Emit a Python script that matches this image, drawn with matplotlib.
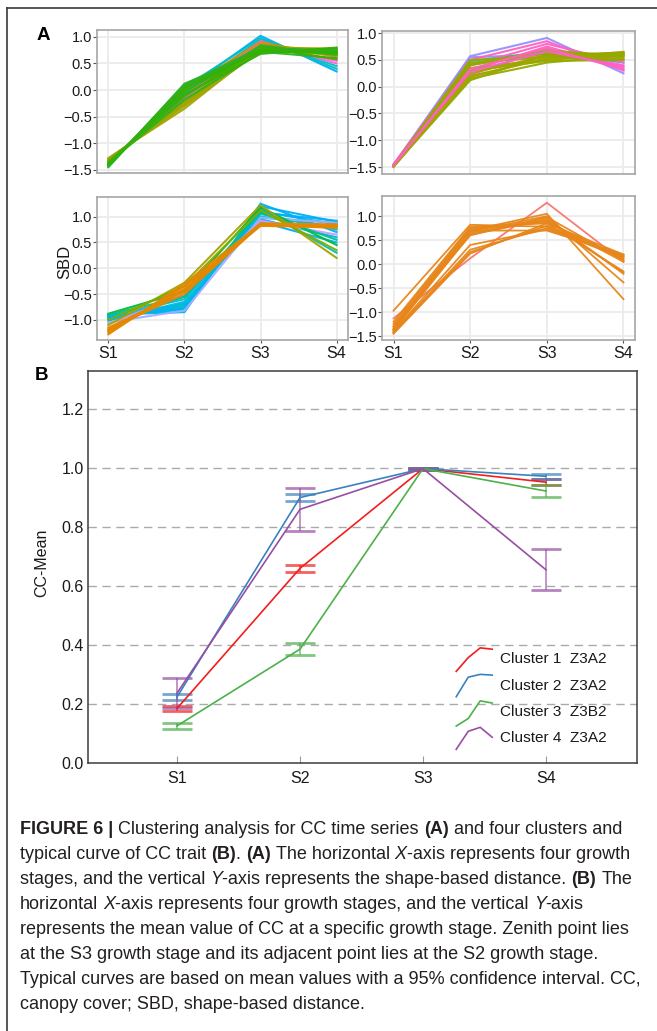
import matplotlib
matplotlib.use("Agg")
import matplotlib.pyplot as plt
from matplotlib.lines import Line2D

W, H = 657, 1031
plt.rcParams['font.family'] = ['Liberation Sans', 'DejaVu Sans']

stages = ['S1', 'S2', 'S3', 'S4']
xs = [1, 2, 3, 4]

# ---- panel A: shape-based distance curves (representative lines)
tl_lines = [
    [-1.40, 0.00, 1.02, 0.35], [-1.42, 0.05, 0.98, 0.40], [-1.38, -0.05, 0.95, 0.45],
    [-1.36, -0.10, 0.92, 0.50], [-1.35, -0.15, 0.88, 0.55], [-1.40, 0.02, 0.90, 0.62],
    [-1.30, -0.30, 0.74, 0.76], [-1.32, -0.25, 0.82, 0.70], [-1.28, -0.35, 0.78, 0.65],
    [-1.33, -0.20, 0.85, 0.72], [-1.29, -0.28, 0.80, 0.78], [-1.31, -0.22, 0.76, 0.74],
    [-1.42, 0.10, 0.80, 0.72], [-1.40, 0.05, 0.78, 0.75],
    [-1.38, -0.02, 0.75, 0.70], [-1.45, 0.12, 0.72, 0.78], [-1.35, -0.10, 0.76, 0.68],
    [-1.37, -0.18, 0.70, 0.74], [-1.38, -0.08, 0.68, 0.80], [-1.44, 0.08, 0.72, 0.60],
    [-1.36, -0.12, 0.80, 0.58], [-1.39, -0.04, 0.84, 0.66], [-1.41, 0.03, 0.74, 0.70],
]
tl_colors = ['#00B0F6', '#00BFC4', '#00BFC4', '#F564E3', '#FF61C3', '#E58700',
             '#A3A500', '#9AA500', '#A3A500', '#8FAA00', '#A3A500', '#9AA500',
             '#2DB224', '#2DB224',
             '#35B000', '#2DB224', '#3BB300', '#2DB224', '#35B000', '#2DB224',
             '#3BB300', '#2DB224', '#35B000']

tr_lines = [
    [-1.46, 0.57, 0.91, 0.25], [-1.47, 0.55, 0.60, 0.50], [-1.48, 0.48, 0.65, 0.45],
    [-1.45, 0.50, 0.85, 0.30], [-1.46, 0.30, 0.75, 0.35], [-1.47, 0.22, 0.70, 0.40],
    [-1.45, 0.40, 0.80, 0.45], [-1.48, 0.45, 0.55, 0.62], [-1.47, 0.35, 0.50, 0.60],
    [-1.49, 0.25, 0.58, 0.64], [-1.46, 0.15, 0.45, 0.58], [-1.48, 0.40, 0.62, 0.55],
    [-1.50, 0.20, 0.52, 0.65], [-1.47, 0.30, 0.48, 0.50], [-1.49, 0.12, 0.60, 0.62],
    [-1.48, 0.50, 0.56, 0.60], [-1.47, 0.42, 0.68, 0.57], [-1.49, 0.18, 0.54, 0.52],
    [-1.46, 0.28, 0.66, 0.38], [-1.47, 0.33, 0.72, 0.32],
]
tr_colors = ['#9590FF', '#9590FF', '#00BFC4', '#FF61C3', '#FF61C3', '#F564E3',
             '#FF61C3', '#93AA00', '#93AA00', '#A3A500', '#93AA00', '#93AA00',
             '#A3A500', '#93AA00', '#93AA00', '#9AA800', '#93AA00', '#A3A500',
             '#FF61C3', '#FF61C3']

bl_lines = [
    [-0.92, -0.80, 1.20, 0.90], [-0.95, -0.75, 1.10, 0.85], [-0.98, -0.70, 1.00, 0.80],
    [-0.90, -0.85, 1.25, 0.70], [-1.00, -0.65, 0.95, 0.60], [-0.93, -0.60, 1.05, 0.75],
    [-1.02, -0.55, 0.90, 0.50], [-0.96, -0.72, 1.15, 0.30], [-0.94, -0.78, 1.08, 0.92],
    [-0.99, -0.68, 0.98, 0.88], [-1.05, -0.82, 0.98, 0.88], [-1.08, -0.50, 0.92, 0.65],
    [-0.88, -0.45, 1.18, 0.45], [-0.90, -0.55, 1.08, 0.55],
    [-1.10, -0.28, 1.22, 0.20], [-1.00, -0.35, 1.12, 0.35], [-1.15, -0.45, 0.85, 0.82],
    [-1.20, -0.40, 0.83, 0.84], [-1.25, -0.35, 0.82, 0.80], [-1.28, -0.30, 0.86, 0.83],
    [-1.18, -0.50, 0.84, 0.78], [-1.22, -0.42, 0.87, 0.85],
]
bl_colors = ['#00B0F6', '#00B8E7', '#00BFC4', '#00B0F6', '#00B8E7', '#00BFC4',
             '#00B0F6', '#00BFC4', '#00B0F6', '#00B8E7', '#9BB0FF', '#C99BFF',
             '#00BA38', '#00C08B',
             '#A3A500', '#7CAE00', '#E58700', '#E58700', '#E38900', '#E58700',
             '#E58700', '#E38900']

br_lines = [
    [-1.13, 0.12, 1.28, 0.05], [-0.97, 0.82, 0.78, 0.15], [-1.20, 0.78, 0.85, 0.20],
    [-1.25, 0.75, 0.88, 0.10], [-1.30, 0.72, 0.90, 0.05], [-1.33, 0.70, 1.05, -0.73],
    [-1.35, 0.68, 1.00, -0.38], [-1.37, 0.65, 0.95, -0.20], [-1.38, 0.62, 0.92, -0.18],
    [-1.40, 0.40, 0.72, 0.18], [-1.42, 0.30, 0.75, 0.12], [-1.43, 0.25, 0.80, 0.15],
    [-1.45, 0.22, 0.85, -0.15], [-1.30, 0.60, 0.98, 0.08], [-1.36, 0.70, 0.70, 0.20],
]
br_colors = ['#F8766D'] + ['#E7861B'] * 14

# ---- panel B: cluster means with 95% CI
clusters = ['Cluster 1  Z3A2', 'Cluster 2  Z3A2', 'Cluster 3  Z3B2', 'Cluster 4  Z3A2']
cl_colors = ['#F01E1E', '#3A82BD', '#4DB04A', '#984EA3']
cl_mean = [
    [0.185, 0.660, 0.998, 0.952],
    [0.224, 0.900, 0.998, 0.972],
    [0.126, 0.386, 0.998, 0.922],
    [0.237, 0.860, 0.998, 0.655],
]
cl_low = [
    [0.176, 0.647, 0.993, 0.942],
    [0.213, 0.888, 0.994, 0.963],
    [0.115, 0.366, 0.993, 0.902],
    [0.186, 0.786, 0.994, 0.586],
]
cl_high = [
    [0.193, 0.671, 1.000, 0.963],
    [0.234, 0.912, 1.000, 0.981],
    [0.136, 0.407, 1.000, 0.942],
    [0.288, 0.932, 1.000, 0.725],
]

caption = [
    [("FIGURE 6 |", 'b'), (" Clustering analysis for CC time series ", 'n'), ("(A)", 'b'),
     (" and four clusters and", 'n')],
    [("typical curve of CC trait ", 'n'), ("(B)", 'b'), (". ", 'n'), ("(A)", 'b'),
     (" The horizontal ", 'n'), ("X", 'i'), ("-axis represents four growth", 'n')],
    [("stages, and the vertical ", 'n'), ("Y", 'i'),
     ("-axis represents the shape-based distance. ", 'n'), ("(B)", 'b'), (" The", 'n')],
    [("horizontal ", 'n'), ("X", 'i'), ("-axis represents four growth stages, and the vertical ", 'n'),
     ("Y", 'i'), ("-axis", 'n')],
    [("represents the mean value of CC at a specific growth stage. Zenith point lies", 'n')],
    [("at the S3 growth stage and its adjacent point lies at the S2 growth stage.", 'n')],
    [("Typical curves are based on mean values with a 95% confidence interval. CC,", 'n')],
    [("canopy cover; SBD, shape-based distance.", 'n')],
]


def px_axes(fig, l, t, r, b):
    return fig.add_axes([l / W, 1 - b / H, (r - l) / W, (b - t) / H])


def style_a(ax, ylim, yticks, show_x):
    ax.set_xlim(0.85, 4.15)
    ax.set_ylim(*ylim)
    ax.set_yticks(yticks)
    ax.set_xticks(xs)
    ax.grid(True, color='#EBEBEB', lw=1.3)
    ax.set_axisbelow(True)
    for s in ax.spines.values():
        s.set_color('#A6A6A6')
        s.set_linewidth(1.2)
    ax.tick_params(axis='y', length=3, width=0.8, color='#555555', pad=0.5,
                   labelsize=10.5, labelcolor='#1A1A1A')
    if show_x:
        ax.set_xticklabels(stages)
        ax.tick_params(axis='x', length=2.5, width=0.8, color='#555555', pad=2,
                       labelsize=11.5, labelcolor='#1A1A1A')
    else:
        ax.tick_params(axis='x', length=0, labelbottom=False)


def draw_lines(ax, lines, colors, lw=1.5):
    for vals, c in zip(lines, colors):
        ax.plot(xs, vals, color=c, lw=lw, alpha=0.95, solid_joinstyle='miter')


def rich_line(fig, renderer, x_px, y_px, segments, size, fam):
    probe = fig.text(0, 0, "a a", fontsize=size, family=fam)
    w2 = probe.get_window_extent(renderer).width
    probe.set_text("aa")
    space = w2 - probe.get_window_extent(renderer).width
    probe.remove()
    x = x_px
    for txt, st in segments:
        lead = len(txt) - len(txt.lstrip(' '))
        trail = len(txt) - len(txt.rstrip(' '))
        core = txt.strip(' ')
        x += lead * space
        kw = {'family': fam, 'fontsize': size, 'color': '#231F20'}
        if st == 'b':
            kw['fontweight'] = 'bold'
        if st == 'i':
            kw['fontstyle'] = 'italic'
        t = fig.text(x / W, 1 - y_px / H, core, ha='left', va='center', **kw)
        x += t.get_window_extent(renderer).width + trail * space


fig = plt.figure(figsize=(W / 100, H / 100), dpi=100)
fig.patch.set_facecolor('white')

# panel A
ax1 = px_axes(fig, 97, 30, 348, 173)
draw_lines(ax1, tl_lines, tl_colors)
style_a(ax1, (-1.56, 1.13), [-1.5, -1.0, -0.5, 0.0, 0.5, 1.0], False)

ax2 = px_axes(fig, 382, 31, 635, 174)
draw_lines(ax2, tr_lines, tr_colors)
style_a(ax2, (-1.63, 1.04), [-1.5, -1.0, -0.5, 0.0, 0.5, 1.0], False)

ax3 = px_axes(fig, 97, 197, 348, 340)
draw_lines(ax3, bl_lines, bl_colors)
style_a(ax3, (-1.39, 1.38), [-1.0, -0.5, 0.0, 0.5, 1.0], True)

ax4 = px_axes(fig, 382, 196, 635, 340)
draw_lines(ax4, br_lines, br_colors, lw=1.3)
style_a(ax4, (-1.58, 1.42), [-1.5, -1.0, -0.5, 0.0, 0.5, 1.0], True)

fig.text(65 / W, 1 - 262 / H, 'SBD', rotation=90, ha='center', va='center',
         fontsize=12, color='#1A1A1A')
fig.text(43 / W, 1 - 35 / H, 'A', fontsize=13.5, fontweight='bold', ha='center', va='center')
fig.text(42 / W, 1 - 375 / H, 'B', fontsize=13.5, fontweight='bold', ha='center', va='center')

# panel B
axb = px_axes(fig, 88, 371, 637, 763)
axb.set_xlim(0.276, 4.74)
axb.set_ylim(0, 1.329)
for yv in [0.2, 0.4, 0.6, 0.8, 1.0, 1.2]:
    axb.axhline(yv, color='#AAAAAA', lw=1.0, ls=(0, (6, 4)), zorder=0)
for k in range(4):
    m = cl_mean[k]
    lo = [m[i] - cl_low[k][i] for i in range(4)]
    hi = [cl_high[k][i] - m[i] for i in range(4)]
    axb.errorbar(xs, m, yerr=[lo, hi], fmt='none', ecolor=cl_colors[k],
                 elinewidth=1.2, capsize=11, capthick=2.0, alpha=0.7, zorder=2)
    axb.plot(xs, m, color=cl_colors[k], lw=1.2, zorder=3)
axb.set_xticks(xs)
axb.set_xticklabels(stages)
axb.set_yticks([0.0, 0.2, 0.4, 0.6, 0.8, 1.0, 1.2])
axb.tick_params(axis='x', direction='in', length=5, color='#999999', pad=6,
                labelsize=11.5, labelcolor='#1A1A1A')
axb.tick_params(axis='y', length=0, pad=3, labelsize=11.5, labelcolor='#1A1A1A')
for s in axb.spines.values():
    s.set_color('#3C3C3C')
    s.set_linewidth(1.1)
fig.text(42 / W, 1 - 563 / H, 'CC-Mean', rotation=90, ha='center', va='center',
         fontsize=11.5, color='#1A1A1A')

# legend: small glyph of each cluster's mean curve + label
for k in range(4):
    ty = 0.3525 - 0.0898 * k
    gx = [3.27 + 0.0976 * i for i in range(4)]
    gy = [ty - 0.06 + 0.098 * v for v in cl_mean[k]]
    axb.plot(gx, gy, color=cl_colors[k], lw=1.2, zorder=4)
    axb.text(3.63, ty, clusters[k], ha='left', va='center', fontsize=11.1,
             color='#1A1A1A', zorder=4)

# figure border
fig.add_artist(Line2D([7 / W, 7 / W], [0, 1 - 8 / H], color='#3A3A3A', lw=1.2))
fig.add_artist(Line2D([7 / W, 1], [1 - 8 / H, 1 - 8 / H], color='#3A3A3A', lw=1.2))

# caption
renderer = fig.canvas.get_renderer()
cap_font = ['Liberation Sans Narrow', 'Liberation Sans', 'DejaVu Sans']
for i, segs in enumerate(caption):
    rich_line(fig, renderer, 20, 829 + 25.1 * i, segs, 13.0, cap_font)

fig.savefig('out.png', dpi=100, facecolor='white')
